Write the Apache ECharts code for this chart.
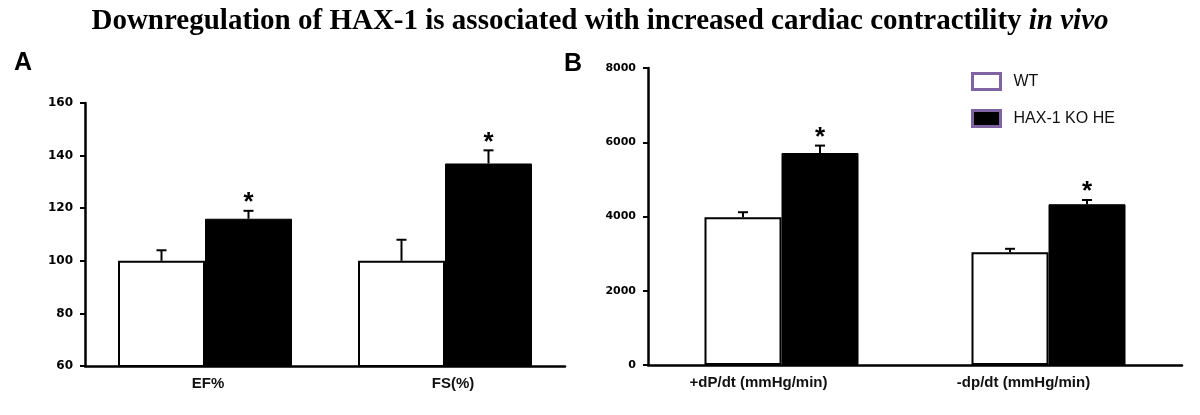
<!DOCTYPE html>
<html>
<head>
<meta charset="utf-8">
<script src="https://cdn.jsdelivr.net/npm/echarts@6/dist/echarts.min.js"></script>
<style>
  html, body { margin: 0; padding: 0; background: #fff; }
  #chart { width: 1200px; height: 415px; }
</style>
</head>
<body>
<div id="chart"></div>
<script>
// ---------- data ----------
const seriesNames = ['WT', 'HAX-1 KO HE'];

const catsA = ['EF%', 'FS(%)'];
const wtA = [100, 100];
const wtAErr = [4, 8];
const koA = [116, 137];
const koAErr = [3, 5];
const sigA = [1, 1];
const yTicksA = { min: 60, max: 160, interval: 20 };

const catsB = ['+dP/dt (mmHg/min)', '-dp/dt (mmHg/min)'];
const wtB = [3980, 3040];
const wtBErr = [135, 90];
const koB = [5710, 4330];
const koBErr = [200, 115];
const sigB = [1, 1];
const yTicksB = { min: 0, max: 8000, interval: 2000 };

// ---------- helpers ----------
function errRender(sign, barW) {
  return function (params, api) {
    const i = api.value(0), v = api.value(1), e = api.value(2), s = api.value(3);
    const base = api.coord([i, v]);
    const top = api.coord([i, v + e]);
    const x = base[0] + sign * barW / 2;
    const st = { stroke: '#000', lineWidth: 2 };
    const children = [
      { type: 'line', shape: { x1: x, y1: base[1], x2: x, y2: top[1] }, style: st },
      { type: 'line', shape: { x1: x - 5, y1: top[1], x2: x + 5, y2: top[1] }, style: st }
    ];
    if (s) {
      children.push({
        type: 'text',
        style: {
          text: '*', x: x, y: top[1] + 5, align: 'center', verticalAlign: 'bottom',
          font: 'bold 26px "Liberation Sans"', fill: '#000'
        }
      });
    }
    return { type: 'group', children: children };
  };
}

function catAxis(gridIndex, cats, richShift) {
  return {
    type: 'category', gridIndex: gridIndex, data: cats,
    axisLine: { show: true, lineStyle: { color: '#000', width: 2.5 } },
    axisTick: { show: false },
    axisLabel: {
      margin: 10,
      formatter: function (val, idx) { return '{s' + idx + '|' + val + '}'; },
      rich: richShift,
      color: '#111', fontFamily: 'Liberation Sans', fontWeight: 'bold', fontSize: 15
    }
  };
}

function valAxis(gridIndex, t, fs, margin) {
  return {
    type: 'value', gridIndex: gridIndex, min: t.min, max: t.max, interval: t.interval,
    splitLine: { show: false },
    axisLine: { show: true, lineStyle: { color: '#000', width: 2.5 } },
    axisTick: { show: true, inside: false, length: 5, lineStyle: { color: '#000', width: 2 } },
    axisLabel: {
      margin: margin, color: '#000', fontFamily: 'DejaVu Sans', fontWeight: 'bold', fontSize: fs,
      formatter: function (v) { return String(v); }
    }
  };
}

const rs = (fs) => ({ fontFamily: 'Liberation Sans', fontWeight: 'bold', fontSize: fs, color: '#111' });
const BW_A = 87, BW_B = 77;

const option = {
  animation: false,
  backgroundColor: '#fff',
  title: [
    {
      text: '{b|Downregulation of HAX-1 is associated with increased cardiac contractility }{i|in vivo}',
      left: 'center', top: 2,
      textStyle: {
        rich: {
          b: { fontFamily: 'Liberation Serif', fontWeight: 'bold', fontSize: 29, color: '#000' },
          i: { fontFamily: 'Liberation Serif', fontWeight: 'bold', fontStyle: 'italic', fontSize: 29, color: '#000' }
        }
      }
    },
    { text: 'A', left: 9, top: 46, textStyle: { fontFamily: 'Liberation Sans', fontWeight: 'bold', fontSize: 25, color: '#000' } },
    { text: 'B', left: 559, top: 47, textStyle: { fontFamily: 'Liberation Sans', fontWeight: 'bold', fontSize: 25, color: '#000' } }
  ],
  legend: {
    data: seriesNames,
    orient: 'vertical', left: 966, top: 67,
    icon: 'rect', itemWidth: 28, itemHeight: 16, itemGap: 18,
    itemStyle: { borderColor: '#8064a2', borderWidth: 3 },
    textStyle: { fontFamily: 'Liberation Sans', fontSize: 16, color: '#111', padding: [0, 0, 0, 8] }
  },
  grid: [
    { left: 85, top: 103, width: 480, height: 263, containLabel: false },
    { left: 648, top: 68, width: 534, height: 297, containLabel: false }
  ],
  xAxis: [
    catAxis(0, catsA, { s0: Object.assign(rs(15), { padding: [0, 0, 0, 6] }), s1: Object.assign(rs(15), { padding: [0, 0, 0, 16] }) }),
    catAxis(1, catsB, { s0: Object.assign(rs(15), { padding: [0, 46, 0, 0] }), s1: Object.assign(rs(15), { padding: [0, 50, 0, 0] }) })
  ],
  yAxis: [
    valAxis(0, yTicksA, 12, 12),
    valAxis(1, yTicksB, 11, 12)
  ],
  series: [
    { name: seriesNames[0], type: 'bar', xAxisIndex: 0, yAxisIndex: 0, data: wtA, barWidth: BW_A, barGap: '0%',
      itemStyle: { color: '#fff', borderColor: '#000', borderWidth: 2 } },
    { name: seriesNames[1], type: 'bar', xAxisIndex: 0, yAxisIndex: 0, data: koA, barWidth: BW_A, barGap: '0%',
      itemStyle: { color: '#000', borderColor: '#000', borderWidth: 1 } },
    { name: seriesNames[0], type: 'bar', xAxisIndex: 1, yAxisIndex: 1, data: wtB, barWidth: BW_B, barGap: '0%',
      itemStyle: { color: '#fff', borderColor: '#000', borderWidth: 2 } },
    { name: seriesNames[1], type: 'bar', xAxisIndex: 1, yAxisIndex: 1, data: koB, barWidth: BW_B, barGap: '0%',
      itemStyle: { color: '#000', borderColor: '#000', borderWidth: 1 } },
    { name: 'errA_wt', type: 'custom', xAxisIndex: 0, yAxisIndex: 0, z: 5, renderItem: errRender(-1, BW_A),
      data: catsA.map((c, i) => [i, wtA[i], wtAErr[i], 0]) },
    { name: 'errA_ko', type: 'custom', xAxisIndex: 0, yAxisIndex: 0, z: 5, renderItem: errRender(1, BW_A),
      data: catsA.map((c, i) => [i, koA[i], koAErr[i], sigA[i]]) },
    { name: 'errB_wt', type: 'custom', xAxisIndex: 1, yAxisIndex: 1, z: 5, renderItem: errRender(-1, BW_B),
      data: catsB.map((c, i) => [i, wtB[i], wtBErr[i], 0]) },
    { name: 'errB_ko', type: 'custom', xAxisIndex: 1, yAxisIndex: 1, z: 5, renderItem: errRender(1, BW_B),
      data: catsB.map((c, i) => [i, koB[i], koBErr[i], sigB[i]]) }
  ]
};

const chart = echarts.init(document.getElementById('chart'), null, { renderer: 'canvas' });
chart.setOption(option);
</script>
</body>
</html>
